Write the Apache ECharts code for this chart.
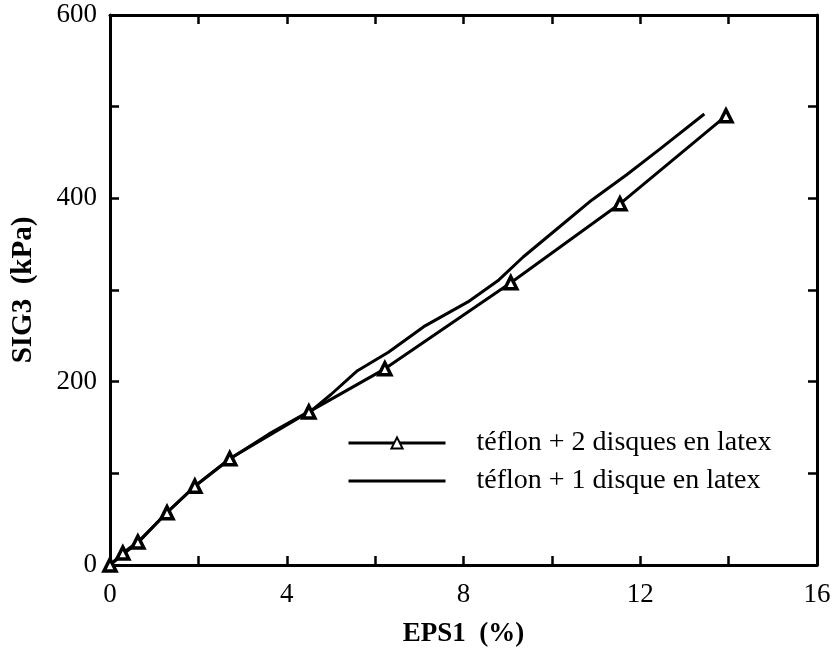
<!DOCTYPE html>
<html>
<head>
<meta charset="utf-8">
<script src="https://cdn.jsdelivr.net/npm/echarts@6/dist/echarts.min.js"></script>
<style>
  html, body { margin: 0; padding: 0; background: #fff; }
  #chart { width: 835px; height: 657px; }
</style>
</head>
<body>
<div id="chart"></div>
<script>
// Strain (EPS1, %) and confining stress (SIG3, kPa) for the two membrane set-ups
const twoDiscEps = [0, 0.29, 0.63, 1.29, 1.92, 2.71, 4.5, 6.22, 9.07, 11.54, 13.94];
const twoDiscSig = [0, 13, 25, 57, 86, 116, 167, 214, 308, 394, 490];

const oneDiscEps = [0, 0.3, 0.65, 1.3, 1.95, 2.75, 3.6, 4.6, 5.0, 5.6, 6.3, 7.1, 8.1, 8.8, 9.35, 10.1, 10.9, 11.7, 12.45, 13.45];
const oneDiscSig = [0, 12, 25, 58, 87, 117, 143, 170, 186, 212, 232, 260, 287, 311, 336, 366, 398, 426, 454, 492];

const seriesNames = ['téflon + 2 disques en latex', 'téflon + 1 disque en latex'];
const xTickLabels = ['0', '4', '8', '12', '16'];
const yTickLabels = ['0', '200', '400', '600'];

const pairs = (xs, ys) => xs.map((x, i) => [x, ys[i]]);
const serif = '"Liberation Serif", "DejaVu Serif", serif';
const ink = '#000';

const baseAxis = {
  axisLine: { show: true, onZero: false, lineStyle: { color: ink, width: 3 } },
  axisTick: { show: true, inside: true, length: 9, lineStyle: { color: ink, width: 2.5 } },
  splitLine: { show: false }
};

const chart = echarts.init(document.getElementById('chart'));
chart.setOption({
  animation: false,
  backgroundColor: '#fff',
  grid: { left: 110, right: 18, top: 15, bottom: 92 },
  legend: {
    orient: 'vertical',
    left: 342,
    top: 423,
    itemWidth: 97,
    itemHeight: 14,
    itemGap: 8,
    data: [
      { name: seriesNames[0] },
      { name: seriesNames[1], itemStyle: { opacity: 0 } }
    ],
    lineStyle: { width: 3 },
    textStyle: { fontFamily: serif, fontSize: 28, color: ink, padding: [0, 0, 0, 26], lineHeight: 30 }
  },
  xAxis: [
    Object.assign({}, baseAxis, {
      type: 'value', min: 0, max: 16, interval: 2, position: 'bottom',
      name: 'EPS1  (%)', nameLocation: 'middle', nameGap: 56,
      nameTextStyle: { fontFamily: serif, fontSize: 27, fontWeight: 'bold', color: ink },
      axisLabel: {
        margin: 16, fontFamily: serif, fontSize: 27, color: ink,
        formatter: v => xTickLabels.includes(String(v)) ? String(v) : ''
      }
    }),
    Object.assign({}, baseAxis, {
      type: 'value', min: 0, max: 16, interval: 2, position: 'top',
      axisLabel: { show: false }
    })
  ],
  yAxis: [
    Object.assign({}, baseAxis, {
      type: 'value', min: 0, max: 600, interval: 100, position: 'left',
      name: 'SIG3  (kPa)', nameLocation: 'middle', nameGap: 72, nameRotate: 90,
      nameTextStyle: { fontFamily: serif, fontSize: 29, fontWeight: 'bold', color: ink },
      axisLabel: {
        margin: 13, fontFamily: serif, fontSize: 27, color: ink,
        formatter: v => yTickLabels.includes(String(v)) ? String(v) : ''
      }
    }),
    Object.assign({}, baseAxis, {
      type: 'value', min: 0, max: 600, interval: 100, position: 'right',
      axisLabel: { show: false }
    })
  ],
  series: [
    {
      name: seriesNames[0],
      type: 'line',
      data: pairs(twoDiscEps, twoDiscSig),
      symbol: 'triangle',
      symbolSize: 12,
      itemStyle: { color: '#fff', borderColor: ink, borderWidth: 3.5 },
      lineStyle: { color: ink, width: 3 },
      z: 3
    },
    {
      name: seriesNames[1],
      type: 'line',
      data: pairs(oneDiscEps, oneDiscSig),
      symbol: 'none',
      itemStyle: { color: ink },
      lineStyle: { color: ink, width: 3 },
      z: 2
    }
  ]
});
</script>
</body>
</html>
